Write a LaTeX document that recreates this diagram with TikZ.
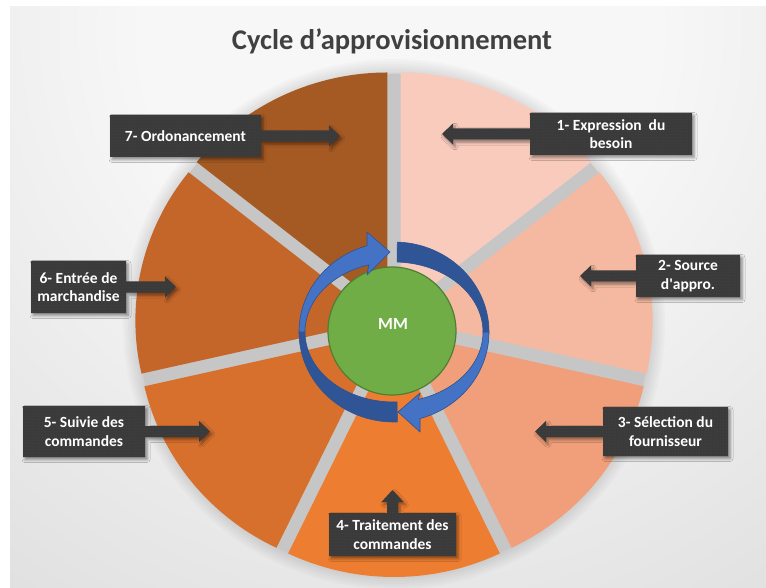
\documentclass[tikz,border=0pt]{standalone}
\usepackage{fontspec}
\setmainfont{Carlito}
\usetikzlibrary{shadows.blur,patterns}

\definecolor{bgA}{HTML}{F7F7F7}
\definecolor{bgB}{HTML}{D2D2D2}
\definecolor{bgC}{HTML}{B0B0B0}
\definecolor{gapgray}{HTML}{C6C6C6}
\definecolor{s1}{HTML}{F8CBBD}
\definecolor{s2}{HTML}{F4B9A0}
\definecolor{s3}{HTML}{F09F7A}
\definecolor{s4}{HTML}{ED7D31}
\definecolor{s5}{HTML}{D8702D}
\definecolor{s6}{HTML}{C4652A}
\definecolor{s7}{HTML}{A65A23}
\definecolor{hubfill}{HTML}{70AD47}
\definecolor{hubline}{HTML}{507E32}
\definecolor{arrdark}{HTML}{2F5597}
\definecolor{arrlight}{HTML}{4472C4}
\definecolor{arrline}{HTML}{2F528F}
\definecolor{boxgray}{HTML}{3A3A3A}
\definecolor{boxdot}{HTML}{4C4C4C}
\definecolor{titlegray}{HTML}{404040}

\pgfdeclareradialshading{bgglow}{\pgfpoint{0bp}{0bp}}{color(0bp)=(bgA); color(8bp)=(bgA); color(30bp)=(bgB); color(50bp)=(bgC)}

\tikzset{
  callout/.style={fill=boxgray, postaction={pattern=dots, pattern color=boxdot},
    blur shadow={shadow xshift=2pt, shadow yshift=-2.5pt, shadow opacity=45, shadow blur radius=3pt}},
  calltext/.style={text=white, font=\fontsize{15.5}{18.5}\selectfont\bfseries, align=center, inner sep=0pt},
  band/.style={draw=arrline, line width=0.6pt, line join=round},
}

% callout box (x1,y1)-(x2,y2) with an arrow pointing left to tip x = #5
\newcommand\calloutW[5]{%
  \pgfmathsetmacro\cym{(#2+#4)/2}%
  \pgfmathsetmacro\hb{#5+11}%
  \fill[callout] (#1,#2) -- (#3,#2) -- (#3,#4) -- (#1,#4) -- (#1,\cym+5.5) -- (\hb,\cym+5.5)
    -- (\hb,\cym+10.5) -- (#5,\cym) -- (\hb,\cym-10.5) -- (\hb,\cym-5.5) -- (#1,\cym-5.5) -- cycle;}
% callout box with an arrow pointing right to tip x = #5
\newcommand\calloutE[5]{%
  \pgfmathsetmacro\cym{(#2+#4)/2}%
  \pgfmathsetmacro\hb{#5-11}%
  \fill[callout] (#1,#2) -- (#3,#2) -- (#3,\cym-5.5) -- (\hb,\cym-5.5) -- (\hb,\cym-10.5)
    -- (#5,\cym) -- (\hb,\cym+10.5) -- (\hb,\cym+5.5) -- (#3,\cym+5.5) -- (#3,#4) -- (#1,#4) -- cycle;}
% callout box with an arrow pointing up to tip y = #5
\newcommand\calloutN[5]{%
  \pgfmathsetmacro\cxm{(#1+#3)/2}%
  \pgfmathsetmacro\hb{#5+12}%
  \fill[callout] (#1,#2) -- (\cxm-5.5,#2) -- (\cxm-5.5,\hb) -- (\cxm-11,\hb) -- (\cxm,#5)
    -- (\cxm+11,\hb) -- (\cxm+5.5,\hb) -- (\cxm+5.5,#2) -- (#3,#2) -- (#3,#4) -- (#1,#4) -- cycle;}

\begin{document}
\begin{tikzpicture}[x=1pt,y=-1pt]
\useasboundingbox (0,0) rectangle (766,588);
\fill[white] (0,0) rectangle (766,588);

% background glow
\begin{scope}
  \clip (10,7) rectangle (766,588);
  \shade[shading=bgglow] (400,30) circle (800);
\end{scope}

\node[font=\fontsize{28.5}{32}\selectfont\bfseries, text=titlegray, anchor=base] (title) at (392,50) {Cycle d’approvisionnement};

% exploded pie
\coordinate (C) at (394,324);
\foreach \i in {1,...,6}
  \fill[black, opacity=0.02] (C) ellipse [x radius=256+2.5*\i, y radius=250+2.5*\i];
\fill[gapgray] (C) ellipse [x radius=256.5, y radius=250.5];
\foreach \k/\col in {1/s1,2/s2,3/s3,4/s4,5/s5,6/s6,7/s7}{
  \pgfmathsetmacro\a{90-(\k-1)*360/7}
  \pgfmathsetmacro\b{\a-360/7}
  \pgfmathsetmacro\m{\a-180/7}
  \fill[\col] ([shift={({15*cos(\m)},{-15*sin(\m)})}]C) -- ++({244*cos(\a)},{-238*sin(\a)})
    arc[start angle=-\a, end angle=-\b, x radius=244, y radius=238] -- cycle;
}

% hub
\node[circle, fill=hubfill, draw=hubline, line width=1.2pt, minimum size=128, inner sep=0pt] (hub) at (392,331) {};
\node[text=white, font=\fontsize{17}{20}\selectfont\bfseries, inner sep=0pt] (mm) at (393,324) {MM};

% circular arrows around the hub
\fill[arrdark, band] plot[domain=88:0, samples=40] ({394+95*cos(\x)},{332-90*sin(\x)})
  -- plot[domain=0:88, samples=40] ({394+89*cos(\x)},{332-70*sin(\x)}) -- cycle;
\fill[arrlight, band] plot[domain=0:-74.1, samples=40] ({394+95*cos(\x)},{332-90*sin(\x)})
  -- (420,432) -- (398,412) -- (420,393)
  -- plot[domain=-74.1:0, samples=40] ({394+89*cos(\x)},{332-70*sin(\x)}) -- cycle;
\fill[arrdark, band] plot[domain=-88:-180, samples=40] ({394+95*cos(\x)},{332-90*sin(\x)})
  -- plot[domain=-180:-88, samples=40] ({394+89*cos(\x)},{332-70*sin(\x)}) -- cycle;
\fill[arrlight, band] plot[domain=-180:-253.5, samples=40] ({394+95*cos(\x)},{332-90*sin(\x)})
  -- (367,232) -- (390,252) -- (367,275)
  -- plot[domain=-253.5:-180, samples=40] ({394+89*cos(\x)},{332-70*sin(\x)}) -- cycle;

% step callouts
\calloutW{530}{113}{692}{155}{442}
\calloutW{636}{255}{740}{297}{580}
\calloutW{603}{407}{728}{456}{535}
\calloutN{329}{513}{456}{556}{490}
\calloutE{23}{406}{145}{457}{210}
\calloutE{31}{261}{126}{313}{176}
\calloutE{110}{115}{261}{157}{340}

\node[calltext] (t1) at (611,134) {1- Expression~ du\\besoin};
\node[calltext] (t2) at (688,276) {2- Source\\d\textquotesingle appro.};
\node[calltext] (t3) at (665.5,431.5) {3- Sélection du\\fournisseur};
\node[calltext] (t4) at (392.5,534.5) {4- Traitement des\\commandes};
\node[calltext] (t5) at (84,431.5) {5- Suivie des\\commandes};
\node[calltext] (t6) at (78.5,287) {6- Entrée de\\marchandise};
\node[calltext] (t7) at (185.5,136) {7- Ordonancement};
\end{tikzpicture}
\end{document}
